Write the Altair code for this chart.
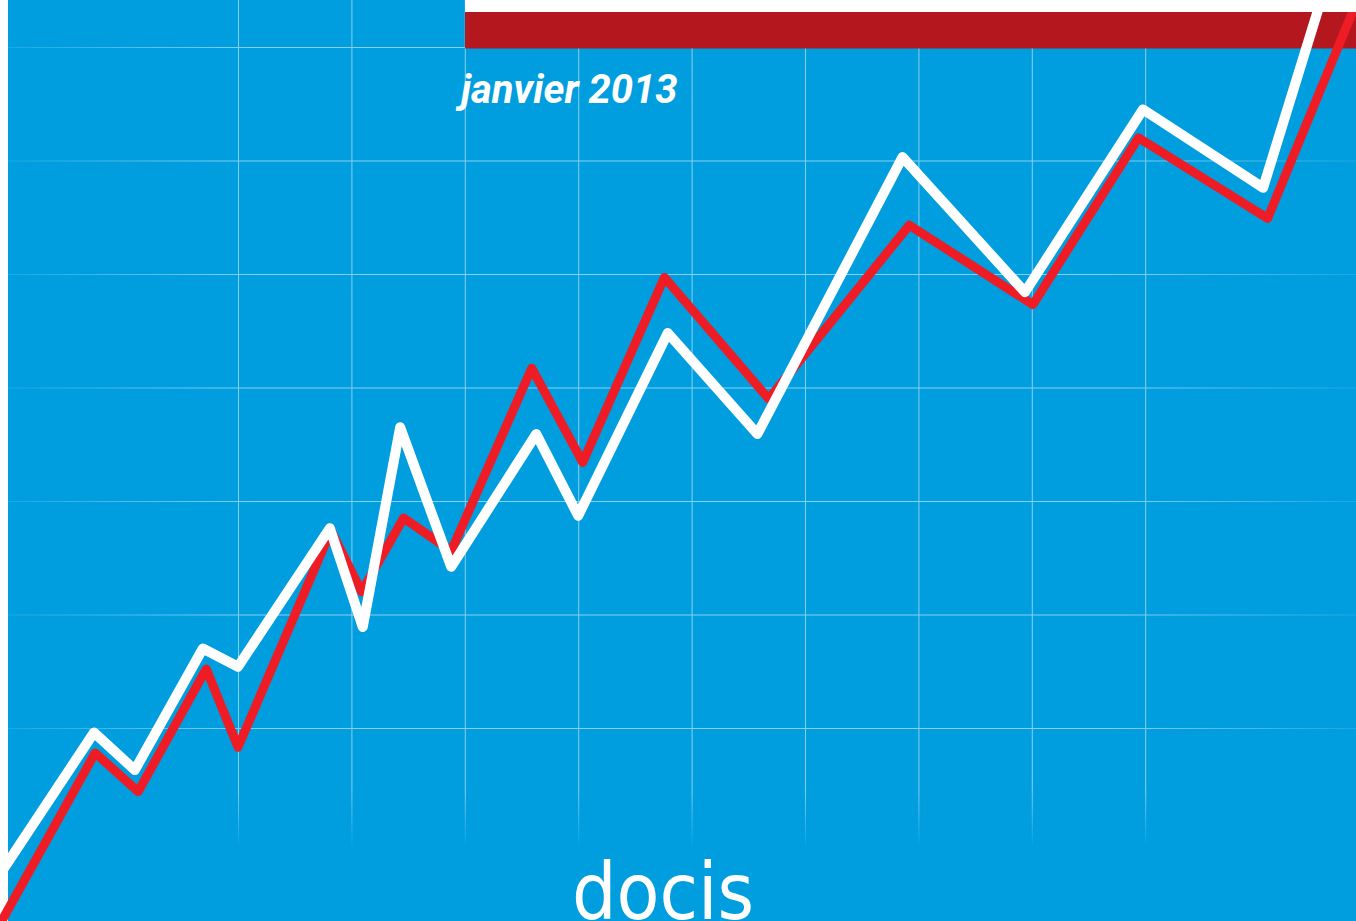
import altair as alt
import pandas as pd

TITLE = "janvier 2013"
LOGO = "docis"

# series (grid units)
white_x = [-0.10, 0.73, 1.09, 1.69, 2.00, 2.81, 3.10, 3.43, 3.88, 4.63, 5.00, 5.79, 6.58, 7.86, 8.94, 9.98, 11.04, 11.55]
white_y = [-0.29, 0.96, 0.63, 1.70, 1.54, 2.76, 1.89, 3.65, 2.42, 3.59, 2.87, 4.48, 3.59, 6.03, 4.84, 6.45, 5.76, 7.41]
red_x = [-0.10, 0.74, 1.12, 1.72, 2.00, 2.82, 3.09, 3.46, 3.88, 4.59, 5.04, 5.76, 6.68, 7.92, 9.01, 9.94, 11.08, 11.87]
red_y = [-0.73, 0.78, 0.44, 1.52, 0.83, 2.74, 2.20, 2.85, 2.56, 4.17, 3.34, 4.97, 3.90, 5.43, 4.73, 6.20, 5.49, 7.41]

grid_x = [2, 3, 4, 5, 6, 7, 8, 9, 10]
grid_y = [1, 2, 3, 4, 5, 6, 7]

W, H = 1356, 921
BLUE = "#009ede"
GRID = "#86d0f1"

xs = alt.Scale(domain=[-0.0988, 11.859], nice=False, zero=False)
ys = alt.Scale(domain=[-0.7004, 7.4141], nice=False, zero=False)

one = pd.DataFrame({"k": [0]})

left_strip = alt.Chart(one).mark_rect(color="white").encode(
    x=alt.value(0), x2=alt.value(8), y=alt.value(0), y2=alt.value(H))
bg = alt.Chart(one).mark_rect(color=BLUE).encode(
    x=alt.value(8), x2=alt.value(W), y=alt.value(0), y2=alt.value(H))

vgrad = alt.Gradient(
    gradient="linear", x1=0, x2=0, y1=0, y2=1,
    stops=[alt.GradientStop(offset=0, color=GRID),
           alt.GradientStop(offset=0.93, color=GRID),
           alt.GradientStop(offset=1, color=BLUE)])
hgrad = alt.Gradient(
    gradient="linear", x1=0, x2=1, y1=0, y2=0,
    stops=[alt.GradientStop(offset=0, color="#1aa8e2"),
           alt.GradientStop(offset=0.18, color=GRID),
           alt.GradientStop(offset=0.82, color=GRID),
           alt.GradientStop(offset=1, color="#1aa8e2")])

vgrid = alt.Chart(pd.DataFrame({"gx": grid_x})).transform_calculate(
    gx2="datum.gx + 0.0089").mark_rect(fill=vgrad).encode(
    x=alt.X("gx:Q", scale=xs, axis=None), x2="gx2:Q",
    y=alt.value(0), y2=alt.value(848))

hgrid = alt.Chart(pd.DataFrame({"gy": grid_y})).transform_calculate(
    gy2="datum.gy - 0.0089").mark_rect(fill=hgrad).encode(
    y=alt.Y("gy:Q", scale=ys, axis=None), y2="gy2:Q",
    x=alt.value(8), x2=alt.value(W))

red_bar = alt.Chart(one).mark_rect(color="#b5171e").encode(
    x=alt.value(465), x2=alt.value(W), y=alt.value(12), y2=alt.value(48.5))

def series(xv, yv, color, width):
    df = pd.DataFrame({"x": xv, "y": yv, "i": list(range(len(xv)))})
    return alt.Chart(df).mark_line(
        color=color, strokeWidth=width, strokeJoin="round", strokeCap="round", clip=True
    ).encode(
        x=alt.X("x:Q", scale=xs, axis=None),
        y=alt.Y("y:Q", scale=ys, axis=None),
        order="i:Q")

red_line = series(red_x, red_y, "#ee1c25", 9)
white_line = series(white_x, white_y, "white", 10)

top_strip = alt.Chart(one).mark_rect(color="white").encode(
    x=alt.value(465), x2=alt.value(W), y=alt.value(0), y2=alt.value(12))

title = alt.Chart(one).mark_text(
    align="left", baseline="alphabetic",
    font="Roboto, Liberation Sans, sans-serif",
    fontSize=40, fontStyle="italic", fontWeight="bold", color="white"
).encode(x=alt.value(461), y=alt.value(103), text=alt.value(TITLE))

logo = alt.Chart(one).mark_text(
    align="left", baseline="alphabetic",
    font="DejaVu Sans Condensed, DejaVu Sans, sans-serif",
    fontSize=78, color="white"
).encode(x=alt.value(572), y=alt.value(919), text=alt.value(LOGO))

chart = alt.layer(
    left_strip, bg, vgrid, hgrid, red_bar, red_line, white_line, top_strip, title, logo
).properties(
    width=W, height=H, padding=0, autosize=alt.AutoSizeParams(type="none"),
    background="white"
).configure_view(strokeWidth=0)

chart.save("out.html", embed_options={"renderer": "svg", "actions": False})
